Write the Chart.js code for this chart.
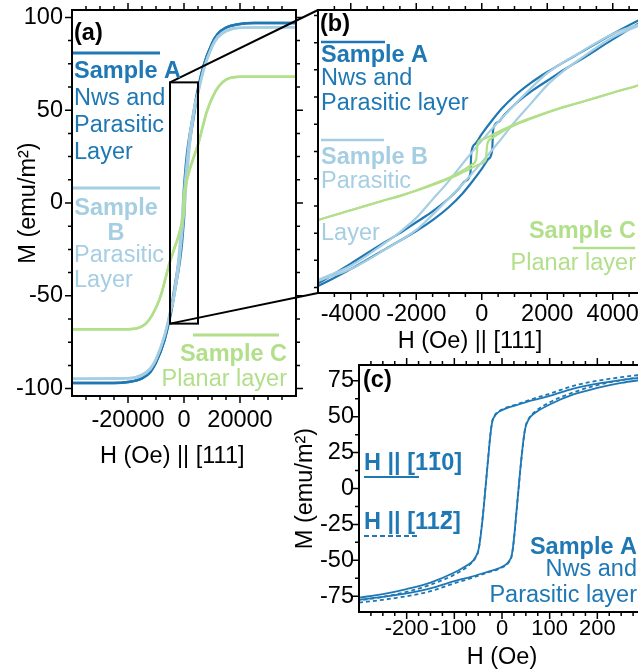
<!DOCTYPE html>
<html>
<head>
<meta charset="utf-8">
<script src="https://cdn.jsdelivr.net/npm/chart.js@4.4.0/dist/chart.umd.min.js"></script>
<style>
  html, body { margin: 0; padding: 0; background: #fff; overflow: hidden; width: 638px; height: 670px; }
  canvas { position: absolute; }
</style>
</head>
<body>
<canvas id="chartA" width="330" height="471" style="left:0px;top:0px"></canvas>
<canvas id="chartB" width="420" height="356" style="left:250px;top:0px"></canvas>
<canvas id="chartC" width="400" height="332" style="left:290px;top:340px"></canvas>
<script>
// ---- data: M (emu/m2) vs H (Oe), field along [111] (panels a and b) ----
const sampleA_down_H = [40000, 25000, 20000, 15000, 12000, 10000, 7000, 5000, 4000, 3000, 2000, 1500, 1000, 600, 300, 0, -200, -320, -345, -500, -700, -1000, -1500, -2000, -2500, -3000, -4000, -5000, -7000, -10000, -12000, -15000, -20000, -25000, -40000];
const sampleA_down_M = [97, 97, 96.5, 94.5, 91, 86, 74, 61.8, 54, 45.3, 36.5, 31.5, 25.5, 19.5, 14, 8, 3.5, -0.7, -9.9, -13.5, -17, -21.5, -27.5, -32.5, -37.5, -42, -51.5, -60.5, -74, -86, -91, -94.5, -96.5, -97, -97];
const sampleA_up_H = [-40000, -25000, -20000, -15000, -12000, -10000, -7000, -5000, -4000, -3000, -2000, -1500, -1000, -600, -300, 0, 200, 320, 345, 500, 700, 1000, 1500, 2000, 2500, 3000, 4000, 5000, 7000, 10000, 12000, 15000, 20000, 25000, 40000];
const sampleA_up_M = [-97, -97, -96.5, -94.5, -91, -86, -74, -61.8, -54, -45.3, -36.5, -31.5, -25.5, -19.5, -14, -8, -3.5, 0.7, 9.9, 13.5, 17, 21.5, 27.5, 32.5, 37.5, 42, 51.5, 60.5, 74, 86, 91, 94.5, 96.5, 97, 97];

const sampleB_down_H = [40000, 20000, 15000, 12000, 10000, 7000, 5000, 4000, 3000, 2000, 1500, 1000, 500, 0, -500, -1000, -1500, -2000, -2500, -3000, -4000, -5000, -7000, -10000, -12000, -15000, -20000, -40000];
const sampleB_down_M = [94.7, 94.5, 93, 89.5, 84.5, 72, 59.5, 54, 45.5, 36, 29, 21.5, 13.5, 5, -4, -13.5, -22, -30.5, -37, -42.5, -52.5, -59, -71.5, -84, -89, -92.5, -94.5, -94.7];
const sampleB_up_H = [-40000, -20000, -15000, -12000, -10000, -7000, -5000, -4000, -3000, -2000, -1500, -1000, -500, 0, 500, 1000, 1500, 2000, 2500, 3000, 4000, 5000, 7000, 10000, 12000, 15000, 20000, 40000];
const sampleB_up_M = [-94.7, -94.5, -93, -89.5, -84.5, -72, -59.5, -54, -45.5, -36, -29, -21.5, -13.5, -5, 4, 13.5, 22, 30.5, 37, 42.5, 52.5, 59, 71.5, 84, 89, 92.5, 94.5, 94.7];

const sampleC_down_H = [40000, 20000, 15000, 12500, 10000, 8000, 6500, 5000, 4000, 3000, 2000, 1000, 500, 0, -120, -170, -300, -500, -1000, -1500, -2500, -3000, -4000, -5000, -6500, -8000, -10000, -12500, -15000, -20000, -40000];
const sampleC_down_M = [68, 68, 66.5, 63, 56.5, 48.5, 40, 31.5, 27, 22.5, 18, 12.5, 9, 5.5, 4, -3.5, -6, -8, -12, -15, -20.5, -22.5, -27, -31.5, -40, -48.5, -56.5, -63, -66.5, -68, -68];
const sampleC_up_H = [-40000, -20000, -15000, -12500, -10000, -8000, -6500, -5000, -4000, -3000, -2000, -1000, -500, 0, 120, 170, 300, 500, 1000, 1500, 2500, 3000, 4000, 5000, 6500, 8000, 10000, 12500, 15000, 20000, 40000];
const sampleC_up_M = [-68, -68, -66.5, -63, -56.5, -48.5, -40, -31.5, -27, -22.5, -18, -12.5, -9, -5.5, -4, 3.5, 6, 8, 12, 15, 20.5, 22.5, 27, 31.5, 40, 48.5, 56.5, 63, 66.5, 68, 68];

// zoom window of panel (b), drawn as the box in panel (a)
const zoomH = [-5000, 5000];
const zoomM = [-65, 65];

// ---- panel (c): sample A, in-plane fields ----
const loopC_down_H = [300, 250, 200, 150, 100, 65, 30, 10, 0, -10, -16, -20, -23, -26, -29, -32, -35, -38, -41, -44, -47, -50, -55, -60, -73, -100, -150, -200, -250, -300];
const loopC_up_H = [-300, -250, -200, -150, -100, -65, -30, -10, 0, 10, 16, 20, 23, 26, 29, 32, 35, 38, 41, 44, 47, 50, 55, 60, 73, 100, 150, 200, 250, 300];
const h1m10_down_M = [77.5, 75.5, 73, 69.5, 64.5, 61.5, 58, 56, 54.5, 52.5, 50, 47, 41, 32, 21, 10, -1, -12, -22, -31, -38.5, -43.5, -47.5, -50, -53.5, -58.5, -65.5, -70, -73.5, -76];
const h1m10_up_M = [-77.5, -75.5, -73, -69.5, -64.5, -61.5, -58, -56, -54.5, -52.5, -50, -47, -41, -32, -21, -10, 1, 12, 22, 31, 38.5, 43.5, 47.5, 50, 53.5, 58.5, 65.5, 70, 73.5, 76];
const h11m2_down_M = [79.5, 77.5, 75, 71.5, 66, 62.5, 58.5, 56.5, 55, 53, 50.5, 47.5, 41.5, 32.5, 21.5, 10.5, -0.5, -11.5, -21.5, -30.5, -38.5, -44, -48, -50.5, -54.5, -60, -67, -72, -75.5, -78];
const h11m2_up_M = [-79.5, -77.5, -75, -71.5, -66, -62.5, -58.5, -56.5, -55, -53, -50.5, -47.5, -41.5, -32.5, -21.5, -10.5, 0.5, 11.5, 21.5, 30.5, 38.5, 44, 48, 50.5, 54.5, 60, 67, 72, 75.5, 78];

// ---- tick values ----
const aXMajor = [-20000, 0, 20000];
const aXMinor = [-35000, -30000, -25000, -15000, -10000, -5000, 5000, 10000, 15000, 25000, 30000, 35000];
const aYMajor = [-100, -50, 0, 50, 100];
const aYMinor = [-87.5, -75, -62.5, -37.5, -25, -12.5, 12.5, 25, 37.5, 62.5, 75, 87.5];
const bXMajor = [-4000, -2000, 0, 2000, 4000];
const bXMinor = [-4500, -3500, -3000, -2500, -1500, -1000, -500, 500, 1000, 1500, 2500, 3000, 3500, 4500];
const bYMinor = [-62.5, -50, -37.5, -25, -12.5, 0, 12.5, 25, 37.5, 50, 62.5];
const cXMajor = [-200, -100, 0, 100, 200];
const cXMinor = [-275, -250, -225, -175, -150, -125, -75, -50, -25, 25, 50, 75, 125, 150, 175, 225, 250, 275];
const cYMajor = [-75, -50, -25, 0, 25, 50, 75];
const cYMinor = [-62.5, -37.5, -12.5, 12.5, 37.5, 62.5];

const FONT = '"Liberation Sans", Arial, sans-serif';
const FS = 23.5;
const BLUE = '#1f78b4', LIGHT = '#a6cee3', GREEN = '#b2df8a';
const OFF = { a: [0, 0], b: [250, 0], c: [290, 340] };

Chart.defaults.font.family = FONT;
Chart.defaults.color = '#000';

const pts = (hs, ms) => hs.map((h, i) => ({ x: h, y: ms[i] }));

function line(hs, ms, color, width, dash) {
    return {
        data: pts(hs, ms),
        showLine: true,
        borderColor: color,
        borderWidth: width,
        borderDash: dash || [],
        pointRadius: 0,
        fill: false,
        cubicInterpolationMode: 'monotone'
    };
}

function sampleSets(w) {
    return [
        line(sampleC_down_H, sampleC_down_M, GREEN, w),
        line(sampleC_up_H, sampleC_up_M, GREEN, w),
        line(sampleB_down_H, sampleB_down_M, LIGHT, w),
        line(sampleB_up_H, sampleB_up_M, LIGHT, w),
        line(sampleA_down_H, sampleA_down_M, BLUE, w),
        line(sampleA_up_H, sampleA_up_M, BLUE, w)
    ];
}

// box around the plot with outward ticks on every side
const frame = {
    id: 'frame',
    afterDraw(chart, _args, o) {
        const { ctx, chartArea: a } = chart;
        const xs = chart.scales.x, ys = chart.scales.y;
        ctx.save();
        ctx.strokeStyle = '#000';
        ctx.lineWidth = 1.5;
        ctx.beginPath();
        const xt = (vals, len) => vals.forEach(v => {
            const p = xs.getPixelForValue(v);
            ctx.moveTo(p, a.bottom); ctx.lineTo(p, a.bottom + len);
            ctx.moveTo(p, a.top); ctx.lineTo(p, a.top - len);
        });
        const yt = (vals, len) => vals.forEach(v => {
            const p = ys.getPixelForValue(v);
            ctx.moveTo(a.left, p); ctx.lineTo(a.left - len, p);
            ctx.moveTo(a.right, p); ctx.lineTo(a.right + len, p);
        });
        xt(o.xMajor || [], 7); xt(o.xMinor || [], 4);
        yt(o.yMajor || [], 7); yt(o.yMinor || [], 4);
        ctx.stroke();
        ctx.lineWidth = 2;
        ctx.strokeRect(a.left, a.top, a.right - a.left, a.bottom - a.top);
        ctx.restore();
    }
};

// text at page coordinates
function put(ctx, off, s, px, py, color, bold, align) {
    ctx.font = (bold ? 'bold ' : '') + FS + 'px ' + FONT;
    ctx.fillStyle = color;
    ctx.textAlign = align || 'left';
    ctx.textBaseline = 'middle';
    ctx.fillText(s, px - off[0], py - off[1]);
}
function seg(ctx, off, x1, y1, x2, y2, color, w, dash) {
    ctx.strokeStyle = color;
    ctx.lineWidth = w;
    ctx.setLineDash(dash || []);
    ctx.beginPath();
    ctx.moveTo(x1 - off[0], y1 - off[1]);
    ctx.lineTo(x2 - off[0], y2 - off[1]);
    ctx.stroke();
    ctx.setLineDash([]);
}

function noPad(ax) {
    ax.paddingTop = 0; ax.paddingBottom = 0; ax.paddingLeft = 0; ax.paddingRight = 0;
}

function xAxis(min, max, major, pad, title, height, size) {
    return {
        type: 'linear', min: min, max: max,
        grid: { display: false, drawTicks: false },
        border: { display: false },
        afterBuildTicks: ax => { ax.ticks = major.map(v => ({ value: v })); },
        afterFit: ax => { ax.height = height; noPad(ax); },
        ticks: { padding: pad, autoSkip: false, maxRotation: 0, font: { size: size || FS }, color: '#000', callback: v => String(v) },
        title: { display: true, text: title, font: { size: FS }, color: '#000', padding: 0 }
    };
}
function yAxis(min, max, major, pad, title, titlePad, width) {
    return {
        type: 'linear', min: min, max: max,
        grid: { display: false, drawTicks: false },
        border: { display: false },
        afterBuildTicks: ax => { ax.ticks = major.map(v => ({ value: v })); },
        afterFit: ax => { ax.width = width; noPad(ax); },
        ticks: { display: major.length > 0, padding: pad, autoSkip: false, font: { size: FS }, color: '#000', callback: v => String(v) },
        title: { display: !!title, text: title, font: { size: FS }, color: '#000', padding: { top: titlePad, bottom: 0 } }
    };
}

const baseOpts = {
    responsive: false,
    animation: false,
    events: []
};

// ---- panel (b) ----
const chartB = new Chart(document.getElementById('chartB'), {
    type: 'scatter',
    data: { datasets: sampleSets(2.2) },
    options: Object.assign({}, baseOpts, {
        layout: { padding: { top: 10, right: 24.5, left: 0, bottom: 0 } },
        plugins: {
            legend: { display: false }, tooltip: { enabled: false },
            frame: { xMajor: bXMajor, xMinor: bXMinor, yMinor: bYMinor }
        },
        scales: {
            x: xAxis(zoomH[0], zoomH[1], bXMajor, 7, 'H (Oe) || [111]\u2003', 63),
            y: yAxis(zoomM[0], zoomM[1], [], 0, '', 0, 68)
        }
    }),
    plugins: [frame, {
        id: 'notesB',
        afterDraw(chart) {
            const ctx = chart.ctx, o = OFF.b;
            ctx.save();
            put(ctx, o, '(b)', 320, 25, '#000', true);
            seg(ctx, o, 321, 42, 385, 42, BLUE, 2.5);
            put(ctx, o, 'Sample A', 321, 56, BLUE, true);
            put(ctx, o, 'Nws and', 321, 79, BLUE);
            put(ctx, o, 'Parasitic layer', 321, 104, BLUE);
            seg(ctx, o, 321, 140, 384, 140, LIGHT, 2.5);
            put(ctx, o, 'Sample B', 321, 158, LIGHT, true);
            put(ctx, o, 'Parasitic', 321, 182, LIGHT);
            put(ctx, o, 'Layer', 321, 234, LIGHT);
            put(ctx, o, 'Sample C', 636, 232, GREEN, true, 'right');
            seg(ctx, o, 573, 248, 635, 248, GREEN, 2.5);
            put(ctx, o, 'Planar layer', 636, 264, GREEN, false, 'right');
            ctx.restore();
        }
    }]
});

// ---- panel (a) ----
const chartA = new Chart(document.getElementById('chartA'), {
    type: 'scatter',
    data: { datasets: sampleSets(2.5) },
    options: Object.assign({}, baseOpts, {
        layout: { padding: { top: 10, right: 34, left: 0, bottom: 0 } },
        plugins: {
            legend: { display: false }, tooltip: { enabled: false },
            frame: { xMajor: aXMajor, xMinor: aXMinor, yMajor: aYMajor, yMinor: aYMinor }
        },
        scales: {
            x: xAxis(-40000, 40000, aXMajor, 10, 'H (Oe) || [111]\u2003', 75),
            y: yAxis(-104, 104, aYMajor, 9, 'M (emu/m\u00b2)', 14, 72)
        }
    }),
    plugins: [frame, {
        id: 'notesA',
        afterDraw(chart) {
            const ctx = chart.ctx, o = OFF.a;
            const xs = chart.scales.x, ys = chart.scales.y;
            ctx.save();
            // zoom box and leaders to panel (b)
            const l = xs.getPixelForValue(zoomH[0]), r = xs.getPixelForValue(zoomH[1]);
            const t = ys.getPixelForValue(zoomM[1]), b = ys.getPixelForValue(zoomM[0]);
            ctx.strokeStyle = '#000';
            ctx.lineWidth = 2;
            ctx.strokeRect(l, t, r - l, b - t);
            const bA = chartB.chartArea;
            const bx = OFF.b[0] + bA.left - o[0];
            ctx.beginPath();
            ctx.moveTo(l, t); ctx.lineTo(bx, OFF.b[1] + bA.top - o[1]);
            ctx.moveTo(l, b); ctx.lineTo(bx, OFF.b[1] + bA.bottom - o[1]);
            ctx.stroke();
            // labels
            put(ctx, o, '(a)', 74, 34, '#000', true);
            seg(ctx, o, 73, 53, 160, 53, BLUE, 3);
            put(ctx, o, 'Sample A', 74, 72, BLUE, true);
            put(ctx, o, 'Nws and', 74, 99, BLUE);
            put(ctx, o, 'Parasitic', 74, 126, BLUE);
            put(ctx, o, 'Layer', 74, 153, BLUE);
            seg(ctx, o, 73, 188, 160, 188, LIGHT, 3);
            put(ctx, o, 'Sample', 116, 209, LIGHT, true, 'center');
            put(ctx, o, 'B', 116, 234, LIGHT, true, 'center');
            put(ctx, o, 'Parasitic', 74, 256, LIGHT);
            put(ctx, o, 'Layer', 74, 281, LIGHT);
            seg(ctx, o, 193, 335, 279, 335, GREEN, 3);
            put(ctx, o, 'Sample C', 287, 355, GREEN, true, 'right');
            put(ctx, o, 'Planar layer', 287, 380, GREEN, false, 'right');
            ctx.restore();
        }
    }]
});

// ---- panel (c) ----
function barred(ctx, o, parts, px, py, color) {
    // parts: [text, overbar?]
    ctx.font = 'bold ' + FS + 'px ' + FONT;
    ctx.fillStyle = color;
    ctx.strokeStyle = color;
    ctx.textAlign = 'left';
    ctx.textBaseline = 'middle';
    let x = px - o[0];
    const y = py - o[1];
    parts.forEach(([s, bar]) => {
        ctx.fillText(s, x, y);
        const w = ctx.measureText(s).width;
        if (bar) {
            ctx.lineWidth = 2.2;
            ctx.beginPath();
            ctx.moveTo(x + 2, y - 11);
            ctx.lineTo(x + w - 1, y - 11);
            ctx.stroke();
        }
        x += w;
    });
}

const chartC = new Chart(document.getElementById('chartC'), {
    type: 'scatter',
    data: {
        datasets: [
            line(loopC_down_H, h11m2_down_M, BLUE, 1.8, [4, 3]),
            line(loopC_up_H, h11m2_up_M, BLUE, 1.8, [4, 3]),
            line(loopC_down_H, h1m10_down_M, BLUE, 1.8),
            line(loopC_up_H, h1m10_up_M, BLUE, 1.8)
        ]
    },
    options: Object.assign({}, baseOpts, {
        layout: { padding: { top: 25, right: 45, left: 0, bottom: 0 } },
        plugins: {
            legend: { display: false }, tooltip: { enabled: false },
            frame: { xMajor: cXMajor, xMinor: cXMinor, yMajor: cYMajor, yMinor: cYMinor }
        },
        scales: {
            x: xAxis(-300, 300, cXMajor, 4, 'H (Oe)', 60, 22),
            y: yAxis(-86, 86, cYMajor, 5, 'M (emu/m\u00b2)', 1, 69)
        }
    }),
    plugins: [frame, {
        id: 'notesC',
        afterDraw(chart) {
            const ctx = chart.ctx, o = OFF.c;
            ctx.save();
            put(ctx, o, '(c)', 363, 381, '#000', true);
            barred(ctx, o, [['H || [1', false], ['1', true], ['0]', false]], 364, 464, BLUE);
            seg(ctx, o, 364, 477, 419, 477, BLUE, 2);
            barred(ctx, o, [['H || [11', false], ['2', true], [']', false]], 364, 523, BLUE);
            seg(ctx, o, 364, 536, 417, 536, BLUE, 2, [5, 3]);
            put(ctx, o, 'Sample A', 637, 548, BLUE, true, 'right');
            put(ctx, o, 'Nws and', 637, 570, BLUE, false, 'right');
            put(ctx, o, 'Parasitic layer', 637, 596, BLUE, false, 'right');
            ctx.restore();
        }
    }]
});
</script>
</body>
</html>
